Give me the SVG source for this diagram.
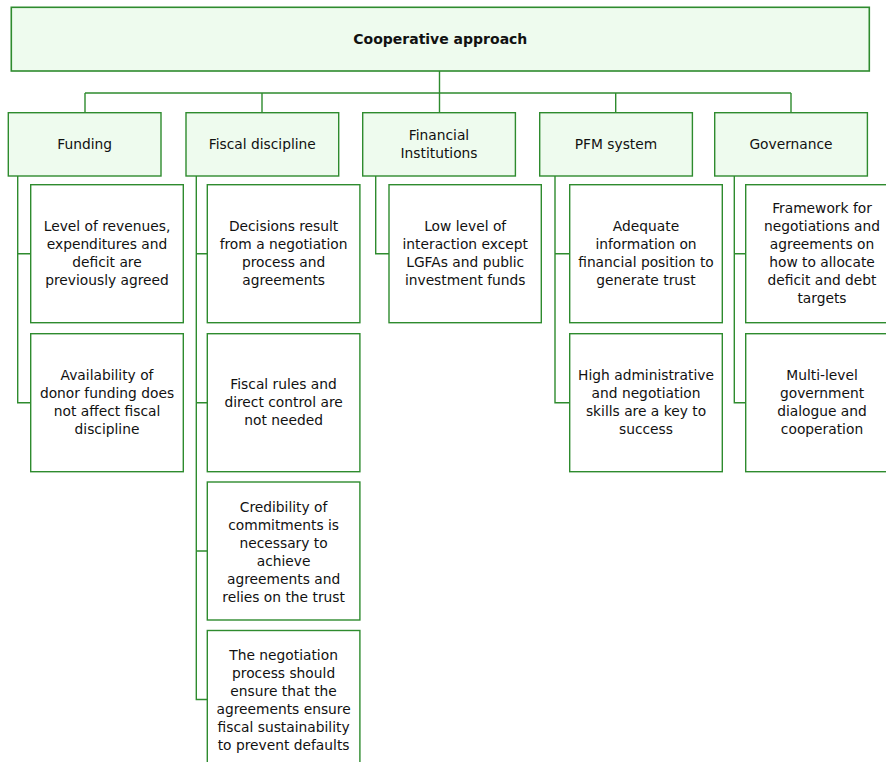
<svg xmlns="http://www.w3.org/2000/svg" width="886" height="762" viewBox="0 0 886 762">
<style>
  .top { fill: #EEFBEE; stroke: #2E8B2E; stroke-width: 1.6; }
  .cat { fill: #EEFBEE; stroke: #2E8B2E; stroke-width: 1.4; }
  .leaf { fill: #FFFFFF; stroke: #2E8B2E; stroke-width: 1.4; }
  .conn { fill: none; stroke: #2E8B2E; stroke-width: 1.4; }
  text { font-family: "DejaVu Sans", Verdana, sans-serif; font-size: 13.8px; fill: #111111; text-anchor: middle; }
  .title { font-weight: bold; font-size: 14px; }
</style>
<rect width="886" height="762" fill="#FFFFFF"/>

<g id="connectors">
  <path class="conn" d="M439.5,71 V93 M85,93 H791 M85,93 V112.7 M262,93 V112.7 M439.5,93 V112.7 M615.7,93 V112.7 M791,93 V112.7"/>
  <path class="conn" d="M17.7,176 V402.7 H30.7 M17.7,253.7 H30.7"/>
  <path class="conn" d="M196.3,176 V699.5 H207.3 M196.3,253.7 H207.3 M196.3,402.7 H207.3 M196.3,551 H207.3"/>
  <path class="conn" d="M375.7,176 V253.7 H389"/>
  <path class="conn" d="M555,176 V402.7 H569.7 M555,253.7 H569.7"/>
  <path class="conn" d="M734.3,176 V402.7 H745.7 M734.3,253.7 H745.7"/>
</g>

<g id="root">
  <rect class="top" x="11.3" y="7.3" width="858" height="63.7"/>
  <text class="title" x="440.3" y="44">Cooperative approach</text>
</g>

<g id="cat-funding">
  <rect class="cat" x="8.3" y="112.7" width="152.7" height="63.3"/>
  <text x="84.7" y="149">Funding</text>
</g>
<g id="cat-fiscal">
  <rect class="cat" x="186" y="112.7" width="152.7" height="63.3"/>
  <text x="262.3" y="149">Fiscal discipline</text>
</g>
<g id="cat-fi">
  <rect class="cat" x="362.7" y="112.7" width="152.7" height="63.3"/>
  <text x="439" y="140">Financial</text>
  <text x="439" y="158">Institutions</text>
</g>
<g id="cat-pfm">
  <rect class="cat" x="539.7" y="112.7" width="152.7" height="63.3"/>
  <text x="616" y="149">PFM system</text>
</g>
<g id="cat-gov">
  <rect class="cat" x="714.7" y="112.7" width="152.7" height="63.3"/>
  <text x="791" y="149">Governance</text>
</g>

<g id="funding-1">
  <rect class="leaf" x="30.7" y="184.7" width="152.6" height="138"/>
  <text x="107" y="231">Level of revenues,</text>
  <text x="107" y="249">expenditures and</text>
  <text x="107" y="267">deficit are</text>
  <text x="107" y="285">previously agreed</text>
</g>
<g id="funding-2">
  <rect class="leaf" x="30.7" y="333.7" width="152.6" height="138"/>
  <text x="107" y="380">Availability of</text>
  <text x="107" y="398">donor funding does</text>
  <text x="107" y="416">not affect fiscal</text>
  <text x="107" y="434">discipline</text>
</g>

<g id="fiscal-1">
  <rect class="leaf" x="207.3" y="184.7" width="152.6" height="138"/>
  <text x="283.6" y="231">Decisions result</text>
  <text x="283.6" y="249">from a negotiation</text>
  <text x="283.6" y="267">process and</text>
  <text x="283.6" y="285">agreements</text>
</g>
<g id="fiscal-2">
  <rect class="leaf" x="207.3" y="333.7" width="152.6" height="138"/>
  <text x="283.6" y="389">Fiscal rules and</text>
  <text x="283.6" y="407">direct control are</text>
  <text x="283.6" y="425">not needed</text>
</g>
<g id="fiscal-3">
  <rect class="leaf" x="207.3" y="482" width="152.6" height="138"/>
  <text x="283.6" y="512">Credibility of</text>
  <text x="283.6" y="530">commitments is</text>
  <text x="283.6" y="548">necessary to</text>
  <text x="283.6" y="566">achieve</text>
  <text x="283.6" y="584">agreements and</text>
  <text x="283.6" y="602">relies on the trust</text>
</g>
<g id="fiscal-4">
  <rect class="leaf" x="207.3" y="630.5" width="152.6" height="138"/>
  <text x="283.6" y="659.5">The negotiation</text>
  <text x="283.6" y="677.5">process should</text>
  <text x="283.6" y="695.5">ensure that the</text>
  <text x="283.6" y="713.5">agreements ensure</text>
  <text x="283.6" y="731.5">fiscal sustainability</text>
  <text x="283.6" y="749.5">to prevent defaults</text>
</g>

<g id="fi-1">
  <rect class="leaf" x="389" y="184.7" width="152.3" height="138"/>
  <text x="465.2" y="231">Low level of</text>
  <text x="465.2" y="249">interaction except</text>
  <text x="465.2" y="267">LGFAs and public</text>
  <text x="465.2" y="285">investment funds</text>
</g>

<g id="pfm-1">
  <rect class="leaf" x="569.7" y="184.7" width="152.6" height="138"/>
  <text x="646" y="231">Adequate</text>
  <text x="646" y="249">information on</text>
  <text x="646" y="267">financial position to</text>
  <text x="646" y="285">generate trust</text>
</g>
<g id="pfm-2">
  <rect class="leaf" x="569.7" y="333.7" width="152.6" height="138"/>
  <text x="646" y="380">High administrative</text>
  <text x="646" y="398">and negotiation</text>
  <text x="646" y="416">skills are a key to</text>
  <text x="646" y="434">success</text>
</g>

<g id="gov-1">
  <rect class="leaf" x="745.7" y="184.7" width="152.6" height="138"/>
  <text x="822" y="212.5">Framework for</text>
  <text x="822" y="230.5">negotiations and</text>
  <text x="822" y="248.5">agreements on</text>
  <text x="822" y="266.5">how to allocate</text>
  <text x="822" y="284.5">deficit and debt</text>
  <text x="822" y="302.5">targets</text>
</g>
<g id="gov-2">
  <rect class="leaf" x="745.7" y="333.7" width="152.6" height="138"/>
  <text x="822" y="380">Multi-level</text>
  <text x="822" y="398">government</text>
  <text x="822" y="416">dialogue and</text>
  <text x="822" y="434">cooperation</text>
</g>
</svg>
